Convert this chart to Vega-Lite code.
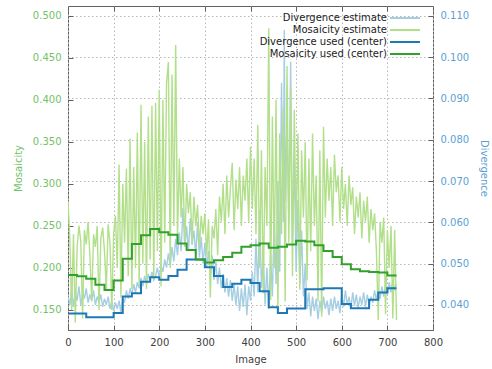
{
  "$schema": "https://vega.github.io/schema/vega-lite/v6.json",
  "width": 365,
  "height": 324,
  "autosize": {"type": "none"},
  "padding": {"left": 68, "top": 6, "right": 59, "bottom": 39},
  "background": "white",
  "config": {
    "view": {"stroke": "#606060", "strokeWidth": 1},
    "font": "DejaVu Sans",
    "axis": {
      "labelFont": "DejaVu Sans", "titleFont": "DejaVu Sans",
      "labelFontSize": 10, "titleFontSize": 10, "titleFontWeight": "normal",
      "domain": false, "tickColor": "#606060", "tickSize": -5, "labelPadding": 12,
      "gridColor": "#b8b8b8", "gridDash": [1.5, 2.5], "gridWidth": 1,
      "labelColor": "#404040", "titleColor": "#404040", "labelFlush": false
    },
    "legend": {
      "labelFont": "DejaVu Sans", "labelFontSize": 10, "labelColor": "#222222"
    }
  },
  "datasets": {
    "dest": [
      {"image":0,"divergence":0.0420},{"image":4,"divergence":0.0400},{"image":8,"divergence":0.0440},{"image":12,"divergence":0.0395},{"image":16,"divergence":0.0430},{"image":20,"divergence":0.0410},{"image":24,"divergence":0.0445},{"image":28,"divergence":0.0400},{"image":32,"divergence":0.0430},{"image":36,"divergence":0.0415},{"image":40,"divergence":0.0440},{"image":44,"divergence":0.0405},{"image":48,"divergence":0.0425},{"image":52,"divergence":0.0410},{"image":56,"divergence":0.0435},{"image":60,"divergence":0.0400},{"image":64,"divergence":0.0420},{"image":68,"divergence":0.0405},{"image":72,"divergence":0.0425},{"image":76,"divergence":0.0395},{"image":80,"divergence":0.0415},{"image":84,"divergence":0.0400},{"image":88,"divergence":0.0420},{"image":92,"divergence":0.0390},{"image":96,"divergence":0.0410},{"image":100,"divergence":0.0385},{"image":104,"divergence":0.0405},{"image":108,"divergence":0.0390},{"image":112,"divergence":0.0410},{"image":116,"divergence":0.0380},{"image":120,"divergence":0.0420},{"image":124,"divergence":0.0405},{"image":128,"divergence":0.0435},{"image":132,"divergence":0.0415},{"image":136,"divergence":0.0440},{"image":140,"divergence":0.0425},{"image":144,"divergence":0.0450},{"image":148,"divergence":0.0430},{"image":152,"divergence":0.0455},{"image":156,"divergence":0.0440},{"image":160,"divergence":0.0465},{"image":164,"divergence":0.0445},{"image":168,"divergence":0.0470},{"image":172,"divergence":0.0450},{"image":176,"divergence":0.0475},{"image":180,"divergence":0.0455},{"image":184,"divergence":0.0480},{"image":188,"divergence":0.0460},{"image":192,"divergence":0.0470},{"image":196,"divergence":0.0490},{"image":200,"divergence":0.0465},{"image":204,"divergence":0.0495},{"image":208,"divergence":0.0480},{"image":212,"divergence":0.0510},{"image":216,"divergence":0.0490},{"image":220,"divergence":0.0525},{"image":224,"divergence":0.0495},{"image":228,"divergence":0.0540},{"image":232,"divergence":0.0505},{"image":236,"divergence":0.0560},{"image":240,"divergence":0.0520},{"image":244,"divergence":0.0575},{"image":248,"divergence":0.0530},{"image":252,"divergence":0.0635},{"image":256,"divergence":0.0540},{"image":260,"divergence":0.0590},{"image":264,"divergence":0.0530},{"image":268,"divergence":0.0610},{"image":272,"divergence":0.0545},{"image":276,"divergence":0.0580},{"image":280,"divergence":0.0520},{"image":284,"divergence":0.0600},{"image":288,"divergence":0.0515},{"image":292,"divergence":0.0565},{"image":296,"divergence":0.0500},{"image":300,"divergence":0.0550},{"image":304,"divergence":0.0490},{"image":308,"divergence":0.0530},{"image":312,"divergence":0.0470},{"image":316,"divergence":0.0520},{"image":320,"divergence":0.0460},{"image":324,"divergence":0.0505},{"image":328,"divergence":0.0450},{"image":332,"divergence":0.0490},{"image":336,"divergence":0.0440},{"image":340,"divergence":0.0475},{"image":344,"divergence":0.0430},{"image":348,"divergence":0.0465},{"image":352,"divergence":0.0420},{"image":356,"divergence":0.0460},{"image":360,"divergence":0.0410},{"image":364,"divergence":0.0450},{"image":368,"divergence":0.0400},{"image":372,"divergence":0.0445},{"image":376,"divergence":0.0385},{"image":380,"divergence":0.0440},{"image":384,"divergence":0.0395},{"image":388,"divergence":0.0450},{"image":392,"divergence":0.0375},{"image":396,"divergence":0.0445},{"image":400,"divergence":0.0410},{"image":404,"divergence":0.0480},{"image":408,"divergence":0.0420},{"image":412,"divergence":0.0560},{"image":416,"divergence":0.0430},{"image":420,"divergence":0.0630},{"image":424,"divergence":0.0440},{"image":428,"divergence":0.0520},{"image":432,"divergence":0.0400},{"image":436,"divergence":0.0490},{"image":440,"divergence":0.0390},{"image":444,"divergence":0.0520},{"image":448,"divergence":0.0420},{"image":452,"divergence":0.0613},{"image":456,"divergence":0.0450},{"image":460,"divergence":0.0700},{"image":464,"divergence":0.0480},{"image":468,"divergence":0.0938},{"image":472,"divergence":0.0600},{"image":474,"divergence":0.1066},{"image":476,"divergence":0.0650},{"image":480,"divergence":0.0850},{"image":484,"divergence":0.0600},{"image":488,"divergence":0.0989},{"image":492,"divergence":0.0550},{"image":496,"divergence":0.0750},{"image":500,"divergence":0.0480},{"image":504,"divergence":0.0654},{"image":508,"divergence":0.0450},{"image":512,"divergence":0.0580},{"image":516,"divergence":0.0420},{"image":520,"divergence":0.0500},{"image":524,"divergence":0.0390},{"image":528,"divergence":0.0430},{"image":532,"divergence":0.0372},{"image":536,"divergence":0.0420},{"image":540,"divergence":0.0385},{"image":544,"divergence":0.0415},{"image":548,"divergence":0.0365},{"image":552,"divergence":0.0410},{"image":556,"divergence":0.0380},{"image":560,"divergence":0.0420},{"image":564,"divergence":0.0390},{"image":568,"divergence":0.0410},{"image":572,"divergence":0.0375},{"image":576,"divergence":0.0415},{"image":580,"divergence":0.0385},{"image":584,"divergence":0.0420},{"image":588,"divergence":0.0390},{"image":592,"divergence":0.0410},{"image":596,"divergence":0.0380},{"image":600,"divergence":0.0425},{"image":604,"divergence":0.0395},{"image":608,"divergence":0.0435},{"image":612,"divergence":0.0400},{"image":616,"divergence":0.0420},{"image":620,"divergence":0.0390},{"image":624,"divergence":0.0430},{"image":628,"divergence":0.0398},{"image":632,"divergence":0.0425},{"image":636,"divergence":0.0392},{"image":640,"divergence":0.0420},{"image":644,"divergence":0.0400},{"image":648,"divergence":0.0430},{"image":652,"divergence":0.0395},{"image":656,"divergence":0.0425},{"image":660,"divergence":0.0400},{"image":664,"divergence":0.0420},{"image":668,"divergence":0.0405},{"image":672,"divergence":0.0435},{"image":676,"divergence":0.0410},{"image":680,"divergence":0.0440},{"image":684,"divergence":0.0415},{"image":688,"divergence":0.0445},{"image":692,"divergence":0.0420},{"image":696,"divergence":0.0450},{"image":700,"divergence":0.0425},{"image":704,"divergence":0.0455},{"image":708,"divergence":0.0430},{"image":712,"divergence":0.0460},{"image":716,"divergence":0.0435},{"image":720,"divergence":0.0450}
    ],
    "mest": [
      {"image":0,"mosaicity":0.280},{"image":4,"mosaicity":0.235},{"image":8,"mosaicity":0.150},{"image":12,"mosaicity":0.240},{"image":16,"mosaicity":0.135},{"image":20,"mosaicity":0.225},{"image":24,"mosaicity":0.250},{"image":28,"mosaicity":0.232},{"image":32,"mosaicity":0.140},{"image":36,"mosaicity":0.245},{"image":40,"mosaicity":0.228},{"image":44,"mosaicity":0.255},{"image":48,"mosaicity":0.215},{"image":52,"mosaicity":0.160},{"image":56,"mosaicity":0.240},{"image":60,"mosaicity":0.225},{"image":64,"mosaicity":0.250},{"image":68,"mosaicity":0.150},{"image":72,"mosaicity":0.235},{"image":76,"mosaicity":0.248},{"image":80,"mosaicity":0.220},{"image":84,"mosaicity":0.175},{"image":88,"mosaicity":0.252},{"image":92,"mosaicity":0.230},{"image":96,"mosaicity":0.150},{"image":100,"mosaicity":0.240},{"image":104,"mosaicity":0.262},{"image":108,"mosaicity":0.200},{"image":112,"mosaicity":0.323},{"image":116,"mosaicity":0.165},{"image":120,"mosaicity":0.300},{"image":124,"mosaicity":0.230},{"image":128,"mosaicity":0.318},{"image":132,"mosaicity":0.190},{"image":136,"mosaicity":0.354},{"image":140,"mosaicity":0.175},{"image":144,"mosaicity":0.320},{"image":148,"mosaicity":0.200},{"image":152,"mosaicity":0.361},{"image":156,"mosaicity":0.180},{"image":160,"mosaicity":0.394},{"image":164,"mosaicity":0.205},{"image":168,"mosaicity":0.350},{"image":172,"mosaicity":0.175},{"image":176,"mosaicity":0.380},{"image":180,"mosaicity":0.210},{"image":184,"mosaicity":0.393},{"image":188,"mosaicity":0.185},{"image":192,"mosaicity":0.396},{"image":196,"mosaicity":0.220},{"image":200,"mosaicity":0.412},{"image":204,"mosaicity":0.178},{"image":208,"mosaicity":0.400},{"image":212,"mosaicity":0.230},{"image":216,"mosaicity":0.420},{"image":220,"mosaicity":0.445},{"image":224,"mosaicity":0.200},{"image":228,"mosaicity":0.430},{"image":232,"mosaicity":0.250},{"image":236,"mosaicity":0.465},{"image":240,"mosaicity":0.235},{"image":244,"mosaicity":0.330},{"image":248,"mosaicity":0.260},{"image":252,"mosaicity":0.320},{"image":256,"mosaicity":0.225},{"image":260,"mosaicity":0.300},{"image":264,"mosaicity":0.265},{"image":268,"mosaicity":0.290},{"image":272,"mosaicity":0.230},{"image":276,"mosaicity":0.285},{"image":280,"mosaicity":0.250},{"image":284,"mosaicity":0.275},{"image":288,"mosaicity":0.225},{"image":292,"mosaicity":0.262},{"image":296,"mosaicity":0.240},{"image":300,"mosaicity":0.265},{"image":304,"mosaicity":0.215},{"image":308,"mosaicity":0.258},{"image":312,"mosaicity":0.165},{"image":316,"mosaicity":0.250},{"image":320,"mosaicity":0.235},{"image":324,"mosaicity":0.270},{"image":328,"mosaicity":0.215},{"image":332,"mosaicity":0.285},{"image":336,"mosaicity":0.255},{"image":340,"mosaicity":0.300},{"image":344,"mosaicity":0.240},{"image":348,"mosaicity":0.310},{"image":352,"mosaicity":0.260},{"image":356,"mosaicity":0.295},{"image":360,"mosaicity":0.325},{"image":364,"mosaicity":0.245},{"image":368,"mosaicity":0.305},{"image":372,"mosaicity":0.270},{"image":376,"mosaicity":0.320},{"image":380,"mosaicity":0.250},{"image":384,"mosaicity":0.310},{"image":388,"mosaicity":0.280},{"image":392,"mosaicity":0.330},{"image":396,"mosaicity":0.255},{"image":400,"mosaicity":0.344},{"image":404,"mosaicity":0.270},{"image":408,"mosaicity":0.330},{"image":412,"mosaicity":0.240},{"image":416,"mosaicity":0.370},{"image":420,"mosaicity":0.200},{"image":424,"mosaicity":0.340},{"image":428,"mosaicity":0.170},{"image":432,"mosaicity":0.320},{"image":436,"mosaicity":0.250},{"image":440,"mosaicity":0.485},{"image":444,"mosaicity":0.162},{"image":448,"mosaicity":0.380},{"image":452,"mosaicity":0.200},{"image":456,"mosaicity":0.400},{"image":460,"mosaicity":0.150},{"image":464,"mosaicity":0.360},{"image":468,"mosaicity":0.240},{"image":472,"mosaicity":0.390},{"image":476,"mosaicity":0.160},{"image":480,"mosaicity":0.440},{"image":484,"mosaicity":0.230},{"image":488,"mosaicity":0.415},{"image":492,"mosaicity":0.190},{"image":496,"mosaicity":0.388},{"image":500,"mosaicity":0.240},{"image":504,"mosaicity":0.360},{"image":508,"mosaicity":0.174},{"image":512,"mosaicity":0.340},{"image":516,"mosaicity":0.260},{"image":520,"mosaicity":0.350},{"image":524,"mosaicity":0.185},{"image":528,"mosaicity":0.330},{"image":532,"mosaicity":0.220},{"image":536,"mosaicity":0.360},{"image":540,"mosaicity":0.250},{"image":544,"mosaicity":0.310},{"image":548,"mosaicity":0.160},{"image":552,"mosaicity":0.340},{"image":556,"mosaicity":0.142},{"image":560,"mosaicity":0.368},{"image":564,"mosaicity":0.260},{"image":568,"mosaicity":0.330},{"image":572,"mosaicity":0.280},{"image":576,"mosaicity":0.320},{"image":580,"mosaicity":0.250},{"image":584,"mosaicity":0.335},{"image":588,"mosaicity":0.290},{"image":592,"mosaicity":0.310},{"image":596,"mosaicity":0.255},{"image":600,"mosaicity":0.320},{"image":604,"mosaicity":0.270},{"image":608,"mosaicity":0.300},{"image":612,"mosaicity":0.250},{"image":616,"mosaicity":0.310},{"image":620,"mosaicity":0.275},{"image":624,"mosaicity":0.296},{"image":628,"mosaicity":0.240},{"image":632,"mosaicity":0.285},{"image":636,"mosaicity":0.260},{"image":640,"mosaicity":0.290},{"image":644,"mosaicity":0.235},{"image":648,"mosaicity":0.280},{"image":652,"mosaicity":0.255},{"image":656,"mosaicity":0.285},{"image":660,"mosaicity":0.230},{"image":664,"mosaicity":0.270},{"image":668,"mosaicity":0.245},{"image":672,"mosaicity":0.265},{"image":676,"mosaicity":0.220},{"image":680,"mosaicity":0.138},{"image":684,"mosaicity":0.255},{"image":688,"mosaicity":0.230},{"image":692,"mosaicity":0.260},{"image":696,"mosaicity":0.145},{"image":700,"mosaicity":0.245},{"image":704,"mosaicity":0.200},{"image":708,"mosaicity":0.250},{"image":712,"mosaicity":0.140},{"image":716,"mosaicity":0.245},{"image":720,"mosaicity":0.138}
    ],
    "dused": [
      {"image":0,"divergence":0.0379},{"image":20,"divergence":0.0379},{"image":40,"divergence":0.0370},{"image":60,"divergence":0.0370},{"image":80,"divergence":0.0370},{"image":100,"divergence":0.0380},{"image":120,"divergence":0.0420},{"image":140,"divergence":0.0428},{"image":160,"divergence":0.0456},{"image":180,"divergence":0.0467},{"image":200,"divergence":0.0461},{"image":220,"divergence":0.0470},{"image":240,"divergence":0.0485},{"image":260,"divergence":0.0510},{"image":280,"divergence":0.0510},{"image":300,"divergence":0.0491},{"image":320,"divergence":0.0470},{"image":340,"divergence":0.0443},{"image":360,"divergence":0.0451},{"image":380,"divergence":0.0461},{"image":400,"divergence":0.0453},{"image":420,"divergence":0.0433},{"image":440,"divergence":0.0394},{"image":460,"divergence":0.0380},{"image":480,"divergence":0.0391},{"image":500,"divergence":0.0391},{"image":520,"divergence":0.0438},{"image":540,"divergence":0.0438},{"image":560,"divergence":0.0440},{"image":580,"divergence":0.0440},{"image":600,"divergence":0.0402},{"image":620,"divergence":0.0392},{"image":640,"divergence":0.0392},{"image":660,"divergence":0.0412},{"image":680,"divergence":0.0430},{"image":700,"divergence":0.0440},{"image":720,"divergence":0.0440}
    ],
    "mused": [
      {"image":0,"mosaicity":0.1916},{"image":20,"mosaicity":0.1900},{"image":40,"mosaicity":0.1870},{"image":60,"mosaicity":0.1800},{"image":80,"mosaicity":0.1738},{"image":100,"mosaicity":0.1850},{"image":120,"mosaicity":0.2110},{"image":140,"mosaicity":0.2285},{"image":160,"mosaicity":0.2390},{"image":180,"mosaicity":0.2463},{"image":200,"mosaicity":0.2425},{"image":220,"mosaicity":0.2395},{"image":240,"mosaicity":0.2290},{"image":260,"mosaicity":0.2214},{"image":280,"mosaicity":0.2100},{"image":300,"mosaicity":0.2065},{"image":320,"mosaicity":0.2090},{"image":340,"mosaicity":0.2130},{"image":360,"mosaicity":0.2180},{"image":380,"mosaicity":0.2253},{"image":400,"mosaicity":0.2270},{"image":420,"mosaicity":0.2291},{"image":440,"mosaicity":0.2241},{"image":460,"mosaicity":0.2253},{"image":480,"mosaicity":0.2280},{"image":500,"mosaicity":0.2322},{"image":520,"mosaicity":0.2315},{"image":540,"mosaicity":0.2270},{"image":560,"mosaicity":0.2200},{"image":580,"mosaicity":0.2130},{"image":600,"mosaicity":0.2045},{"image":620,"mosaicity":0.1984},{"image":640,"mosaicity":0.1960},{"image":660,"mosaicity":0.1953},{"image":680,"mosaicity":0.1946},{"image":700,"mosaicity":0.1910},{"image":720,"mosaicity":0.1910}
    ]
  },
  "resolve": {"scale": {"y": "independent"}, "axis": {"x": "independent"}},
  "layer": [
    {
      "data": {"name": "dest"},
      "mark": {"type": "line", "strokeWidth": 1.4, "clip": true},
      "encoding": {
        "x": {"field": "image", "type": "quantitative", "scale": {"domain": [0, 800], "nice": false},
              "axis": {"orient": "bottom", "values": [0,100,200,300,400,500,600,700,800], "title": "Image", "grid": true, "titlePadding": 7}},
        "y": {"field": "divergence", "type": "quantitative", "scale": {"domain": [0.0339, 0.1124], "nice": false, "zero": false},
              "axis": {"orient": "right", "values": [0.04,0.05,0.06,0.07,0.08,0.09,0.10,0.11], "format": ".3f", "title": "Divergence", "grid": true,
                       "labelColor": "#5c9fd4", "titleColor": "#5c9fd4", "titlePadding": 10}},
        "color": {"datum": "Divergence estimate", "type": "nominal",
                  "scale": {"domain": ["Divergence estimate", "Mosaicity estimate", "Divergence used (center)", "Mosaicity used (center)"],
                            "range": ["#a6cee3", "#b2df8a", "#1f78b4", "#33a02c"]},
                  "legend": {"orient": "none", "legendX": 331, "legendY": 6, "title": null, "symbolType": "M-3,0H3", "symbolSize": 100,
                             "symbolStrokeWidth": 2, "labelAlign": "right", "labelOffset": -24, "rowPadding": 1}}
      }
    },
    {
      "data": {"name": "mest"},
      "mark": {"type": "line", "strokeWidth": 1.4, "clip": true},
      "encoding": {
        "x": {"field": "image", "type": "quantitative", "scale": {"domain": [0, 800], "nice": false},
              "axis": {"orient": "top", "values": [0,100,200,300,400,500,600,700,800], "labels": false, "title": null, "grid": false}},
        "y": {"field": "mosaicity", "type": "quantitative", "scale": {"domain": [0.1262, 0.5115], "nice": false, "zero": false},
              "axis": {"orient": "left", "values": [0.15,0.2,0.25,0.3,0.35,0.4,0.45,0.5], "format": ".3f", "title": "Mosaicity", "grid": false,
                       "labelColor": "#72c267", "titleColor": "#72c267", "titlePadding": 9}},
        "color": {"datum": "Mosaicity estimate", "type": "nominal"}
      }
    },
    {
      "data": {"name": "dused"},
      "mark": {"type": "line", "strokeWidth": 2, "interpolate": "step-after", "clip": true},
      "encoding": {
        "x": {"field": "image", "type": "quantitative", "scale": {"domain": [0, 800], "nice": false}, "axis": null},
        "y": {"field": "divergence", "type": "quantitative", "scale": {"domain": [0.0339, 0.1124], "nice": false, "zero": false}, "axis": null},
        "color": {"datum": "Divergence used (center)", "type": "nominal"}
      }
    },
    {
      "data": {"name": "mused"},
      "mark": {"type": "line", "strokeWidth": 2, "interpolate": "step-after", "clip": true},
      "encoding": {
        "x": {"field": "image", "type": "quantitative", "scale": {"domain": [0, 800], "nice": false}, "axis": null},
        "y": {"field": "mosaicity", "type": "quantitative", "scale": {"domain": [0.1262, 0.5115], "nice": false, "zero": false}, "axis": null},
        "color": {"datum": "Mosaicity used (center)", "type": "nominal"}
      }
    }
  ]
}
